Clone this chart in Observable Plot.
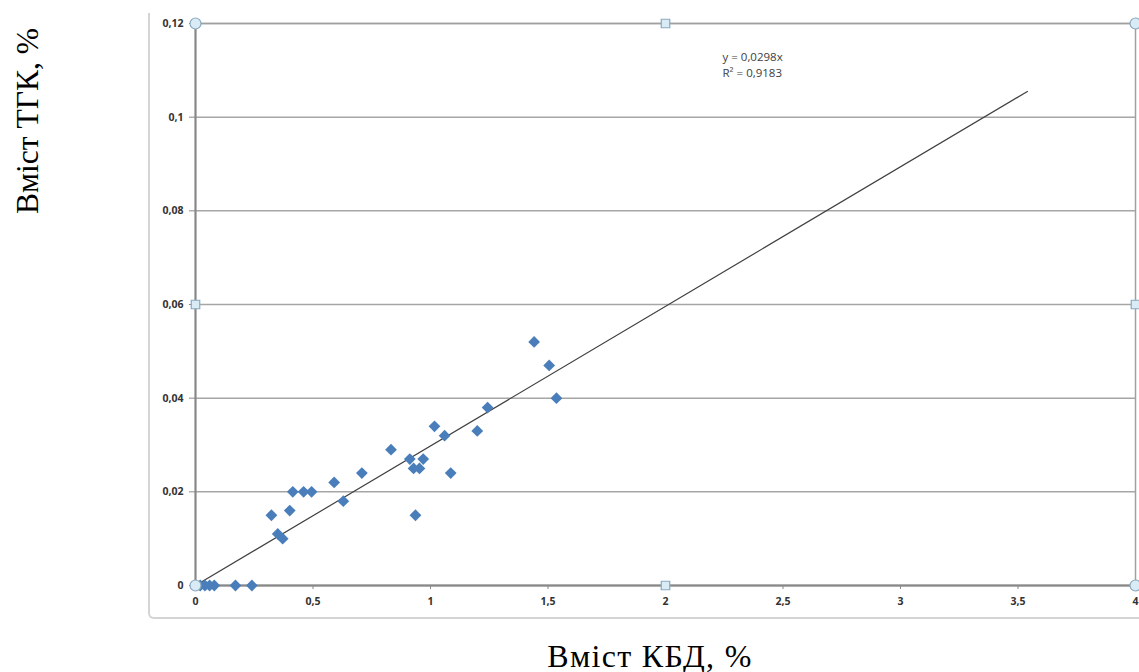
<!DOCTYPE html>
<html>
<head>
<meta charset="utf-8">
<script src="https://cdn.jsdelivr.net/npm/d3@7"></script>
<script src="https://cdn.jsdelivr.net/npm/@observablehq/plot@0.6"></script>
<style>
  html, body { margin: 0; padding: 0; background: #fff; }
  #wrap { position: relative; width: 1139px; height: 672px; overflow: hidden; }
  #chartArea { position: absolute; left: 148px; top: 13px; width: 1100px; height: 604px;
    border-left: 2px solid #d4d4d4; border-bottom: 2px solid #d4d4d4; border-bottom-left-radius: 6px; }
  .ttl { position: absolute; font-family: "Liberation Serif", "Times New Roman", serif; color: #000; white-space: nowrap; }
  #ytitle { left: 28px; top: 121px; font-size: 31.5px; transform: translate(-50%, -50%) rotate(-90deg); }
  #xtitle { left: 650px; top: 656px; font-size: 32px; letter-spacing: 1.3px; transform: translate(-50%, -50%); }
  #plot { position: absolute; left: 0; top: 0; }
</style>
</head>
<body>
<div id="wrap">
  <div id="chartArea"></div>
  <div id="plot"></div>
  <div class="ttl" id="ytitle">Вміст ТГК, %</div>
  <div class="ttl" id="xtitle">Вміст КБД, %</div>
</div>
<script>
// Data: КБД (x, %) and ТГК (y, %)
const kbd = [0.02, 0.04, 0.06, 0.08, 0.17, 0.24, 0.323, 0.35, 0.371, 0.401, 0.414, 0.46, 0.494, 0.59, 0.629, 0.708, 0.832, 0.912, 0.928, 0.953, 0.969, 0.936, 1.017, 1.06, 1.086, 1.199, 1.243, 1.441, 1.505, 1.536];
const tgk = [0, 0, 0, 0, 0, 0, 0.015, 0.011, 0.010, 0.016, 0.020, 0.020, 0.020, 0.022, 0.018, 0.024, 0.029, 0.027, 0.025, 0.025, 0.027, 0.015, 0.034, 0.032, 0.024, 0.033, 0.038, 0.052, 0.047, 0.040];

// Trendline y = 0,0298x, drawn from 0 to xEnd
const trendSlope = 0.0298;
const trendXStart = 0;
const trendXEnd = 3.54;
const trendLabel = ["y = 0,0298x", "R² = 0,9183"];

// Axis ticks
const xTicks = [0, 0.5, 1, 1.5, 2, 2.5, 3, 3.5, 4];
const yTicks = [0, 0.02, 0.04, 0.06, 0.08, 0.1, 0.12];

// Selection handles of the plot area (corners and midpoints)
const cornerX = [0, 4, 0, 4];
const cornerY = [0, 0, 0.12, 0.12];
const midX = [2, 2, 0, 4];
const midY = [0, 0.12, 0.06, 0.06];

const points = kbd.map((x, i) => ({x, y: tgk[i]}));
const trend = [trendXStart, trendXEnd].map(x => ({x, y: trendSlope * x}));
const corners = cornerX.map((x, i) => ({x, y: cornerY[i]}));
const mids = midX.map((x, i) => ({x, y: midY[i]}));
const fmt = d => String(d).replace(".", ",");

const chart = Plot.plot({
  width: 1139,
  height: 672,
  marginLeft: 195,
  marginRight: 4,
  marginTop: 23,
  marginBottom: 87,
  style: { background: "transparent", fontFamily: "'Open Sans', 'Liberation Sans', sans-serif" },
  x: { domain: [0, 4] },
  y: { domain: [0, 0.12] },
  marks: [
    Plot.gridY(yTicks, { stroke: "#a6a6a6", strokeOpacity: 1, strokeWidth: 1.5 }),
    Plot.frame({ stroke: "#a0a0a0", strokeWidth: 1.5 }),
    Plot.ruleX([0], { stroke: "#888", strokeWidth: 2 }),
    Plot.ruleY([0], { stroke: "#888", strokeWidth: 2 }),
    Plot.axisY(yTicks, { tickFormat: fmt, tickSize: 6, tickPadding: 6, stroke: "#888", fontSize: 10.5, fontWeight: "bold", fill: "#333", label: null }),
    Plot.axisX(xTicks, { tickFormat: fmt, tickSize: 4, tickPadding: 8, stroke: "#888", fontSize: 10.5, fontWeight: "bold", fill: "#333", label: null }),
    Plot.line(trend, { x: "x", y: "y", stroke: "#404040", strokeWidth: 1.2 }),
    Plot.dot(points, { x: "x", y: "y", symbol: "diamond2", r: 5.3, fill: "#4a7ebb", stroke: "none" }),
    Plot.dot(corners, { x: "x", y: "y", r: 5.5, fill: "#d9ecf6", stroke: "#8aa9bf", strokeWidth: 1.2 }),
    Plot.dot(mids, { x: "x", y: "y", symbol: "square", r: 4.8, fill: "#d9ecf6", stroke: "#8aa9bf", strokeWidth: 1.2 }),
    Plot.text([trendLabel.join("\n")], { frameAnchor: "top-left", dx: 527, dy: 26, lineHeight: 1.4, fontSize: 11.5, fill: "#404040", textAnchor: "start", fontFamily: "'Open Sans', sans-serif" })
  ]
});
document.getElementById("plot").appendChild(chart);
</script>
</body>
</html>
